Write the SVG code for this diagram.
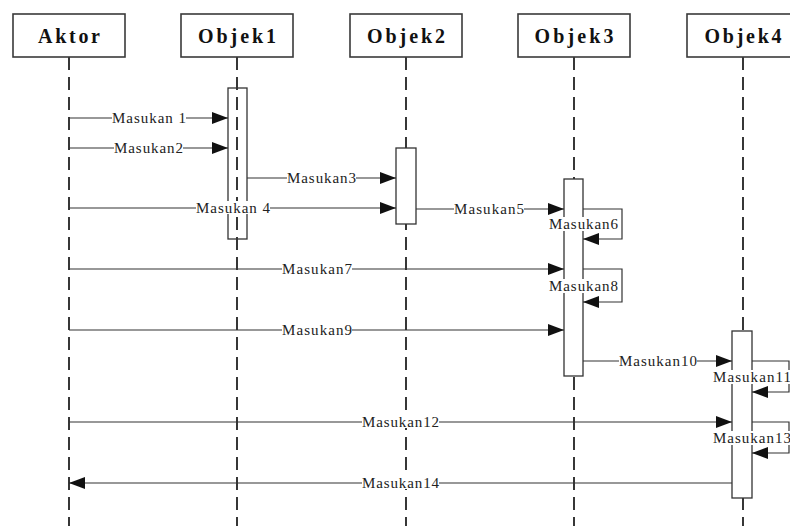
<svg xmlns="http://www.w3.org/2000/svg" width="790" height="526" viewBox="0 0 790 526">
<style>
.hdr{fill:#fff;stroke:#3a3a3a;stroke-width:1.6}
.ht{font-family:"Liberation Serif",serif;font-weight:bold;font-size:20px;fill:#111;text-anchor:middle}
.life{stroke:#222;stroke-width:1.8;stroke-dasharray:13 7;fill:none}
.act{fill:#fff;stroke:#333;stroke-width:1.3}
.msg{stroke:#333;stroke-width:1.2;fill:none}
.lbl{font-family:"Liberation Serif",serif;font-size:15px;fill:#222;text-anchor:middle}
.bg{fill:#fff}
</style>
<defs>
<marker id="ah" markerUnits="userSpaceOnUse" markerWidth="16" markerHeight="12" refX="16" refY="6" orient="auto">
<path d="M0,0 L16,6 L0,12 z" fill="#111"/>
</marker>
</defs>
<rect width="790" height="526" fill="#fff"/>
<g id="lifelines">
<line class="life" x1="69" y1="57" x2="69" y2="526"/>
<line class="life" x1="237" y1="57" x2="237" y2="526"/>
<line class="life" x1="406" y1="57" x2="406" y2="526"/>
<line class="life" x1="574" y1="57" x2="574" y2="526"/>
<line class="life" x1="743" y1="57" x2="743" y2="526"/>
</g>
<g id="aktor"><rect class="hdr" x="13" y="14" width="112" height="43"/><text class="ht" x="69" y="43" textLength="62">Aktor</text></g>
<g id="objek1"><rect class="hdr" x="181" y="14" width="112" height="43"/><text class="ht" x="237" y="43" textLength="78">Objek1</text></g>
<g id="objek2"><rect class="hdr" x="350" y="14" width="112" height="43"/><text class="ht" x="406" y="43" textLength="78">Objek2</text></g>
<g id="objek3"><rect class="hdr" x="518" y="14" width="112" height="43"/><text class="ht" x="574" y="43" textLength="79">Objek3</text></g>
<g id="objek4"><rect class="hdr" x="687" y="14" width="112" height="43"/><text class="ht" x="743" y="43" textLength="77">Objek4</text></g>
<g id="activations">
<rect class="act" x="228" y="88" width="19" height="151" style="fill:none"/>
<rect class="act" x="396" y="148" width="20" height="76"/>
<rect class="act" x="564" y="179" width="19" height="197"/>
<rect class="act" x="732" y="331" width="20" height="167"/>
</g>
<g id="connectors">
<line class="msg" x1="69" y1="118" x2="228" y2="118" marker-end="url(#ah)"/>
<line class="msg" x1="69" y1="148" x2="228" y2="148" marker-end="url(#ah)"/>
<line class="msg" x1="247" y1="178" x2="396" y2="178" marker-end="url(#ah)"/>
<line class="msg" x1="69" y1="208" x2="396" y2="208" marker-end="url(#ah)"/>
<line class="msg" x1="416" y1="209" x2="564" y2="209" marker-end="url(#ah)"/>
<path class="msg" d="M583,209 H622 V239 H583" marker-end="url(#ah)"/>
<line class="msg" x1="69" y1="269" x2="564" y2="269" marker-end="url(#ah)"/>
<path class="msg" d="M583,269 H622 V302 H583" marker-end="url(#ah)"/>
<line class="msg" x1="69" y1="330" x2="564" y2="330" marker-end="url(#ah)"/>
<line class="msg" x1="583" y1="361" x2="732" y2="361" marker-end="url(#ah)"/>
<path class="msg" d="M752,361 H789 V392 H752" marker-end="url(#ah)"/>
<line class="msg" x1="69" y1="422" x2="732" y2="422" marker-end="url(#ah)"/>
<path class="msg" d="M752,422 H789 V453 H752" marker-end="url(#ah)"/>
<line class="msg" x1="732" y1="483" x2="69" y2="483" marker-end="url(#ah)"/>
</g>
<g id="labels">
<rect class="bg" x="112" y="111" width="74" height="13"/><text class="lbl" x="149" y="122.5" textLength="74">Masukan 1</text>
<rect class="bg" x="114" y="141" width="69" height="13"/><text class="lbl" x="148.5" y="152.5" textLength="69">Masukan2</text>
<rect class="bg" x="287" y="171" width="69" height="13"/><text class="lbl" x="321.5" y="182.5" textLength="69">Masukan3</text>
<rect class="bg" x="196" y="201" width="74" height="13"/><text class="lbl" x="233" y="212.5" textLength="74">Masukan 4</text>
<rect class="bg" x="454" y="202" width="70" height="13"/><text class="lbl" x="489" y="213.5" textLength="70">Masukan5</text>
<rect class="bg" x="549" y="217" width="69" height="14"/><text class="lbl" x="583.5" y="228.5" textLength="69">Masukan6</text>
<rect class="bg" x="282" y="262" width="70" height="13"/><text class="lbl" x="317" y="273.5" textLength="70">Masukan7</text>
<rect class="bg" x="549" y="279" width="69" height="14"/><text class="lbl" x="583.5" y="290.5" textLength="69">Masukan8</text>
<rect class="bg" x="282" y="323" width="70" height="13"/><text class="lbl" x="317" y="334.5" textLength="70">Masukan9</text>
<rect class="bg" x="619" y="354" width="78" height="13"/><text class="lbl" x="658" y="365.5" textLength="78">Masukan10</text>
<rect class="bg" x="713" y="370" width="78" height="14"/><text class="lbl" x="752" y="381.5" textLength="78">Masukan11</text>
<rect class="bg" x="362" y="415" width="77" height="13"/><text class="lbl" x="400.5" y="426.5" textLength="77">Masukan12</text>
<rect class="bg" x="713" y="431" width="78" height="14"/><text class="lbl" x="752" y="442.5" textLength="78">Masukan13</text>
<rect class="bg" x="362" y="476" width="77" height="13"/><text class="lbl" x="400.5" y="487.5" textLength="77">Masukan14</text>
</g>
</svg>
